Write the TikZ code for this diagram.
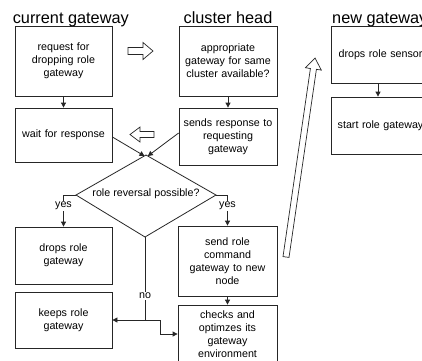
\documentclass[tikz,border=0pt]{standalone}
\usepackage{fontspec}
\setmainfont{Liberation Sans}
\usetikzlibrary{arrows.meta}
\begin{document}
\begin{tikzpicture}[x=1pt,y=-1pt,
  box/.style={draw=black!85, line width=0.8pt, fill=white, align=center,
    text width=92pt, inner sep=0pt, font=\fontsize{10.7}{12.9}\selectfont},
  title/.style={font=\fontsize{16.3}{19}\selectfont, anchor=base, inner sep=0pt},
  conn/.style={draw=black!85, line width=0.8pt, -{Triangle[length=5pt,width=5pt]}},
  plain/.style={draw=black!85, line width=0.8pt},
  lbl/.style={fill=white, inner sep=1pt, font=\fontsize{10.7}{12.9}\selectfont},
  hollow/.style={draw=black!85, line width=0.7pt, fill=white, line join=miter}]
\useasboundingbox (0,0) rectangle (422,360);

% titles
\node[title] (t1) at (70.8,23) {current gateway};
\node[title] (t2) at (228,23) {cluster head};
\node[title, anchor=base west] (t3) at (332,23) {new gateway};

% boxes
\node[box, minimum width=97, minimum height=70] (cg1) at (63.5,61) {request for\\dropping role\\gateway};
\node[box, minimum width=97, minimum height=54] (cg2) at (63.5,135) {wait for response};
\node[box, minimum width=98, minimum height=70] (ch1) at (228,61) {appropriate\\gateway for same\\cluster available?};
\node[box, minimum width=98, minimum height=57] (ch2) at (228,136.5) {sends response to\\requesting\\gateway};
\node[box, minimum width=99, minimum height=57] (ng1) at (380.5,54.5) {drops role sensor};
\node[box, minimum width=99, minimum height=57] (ng2) at (380.5,125.5) {start role gateway};
\node[box, minimum width=97, minimum height=57] (drops) at (63.5,255.5) {drops role\\gateway};
\node[box, minimum width=97, minimum height=56] (keeps) at (63.5,320) {keeps role\\gateway};
\node[box, minimum width=99, minimum height=70] (send) at (227.5,261) {send role\\command\\gateway to new\\node};
\node[box, minimum width=99, minimum height=58] (checks) at (227.5,334) {checks and\\optimzes its\\gateway\\environment};

% decision diamond
\coordinate (dt) at (146,155);
\coordinate (dl) at (76,195);
\coordinate (dr) at (216,195);
\coordinate (db) at (145,237);
\draw[plain, fill=white] (dt) -- (dr) -- (db) -- (dl) -- cycle;
\node[font=\fontsize{10.7}{12.9}\selectfont, inner sep=0pt] (dtext) at (146,194) {role reversal possible?};

% vertical connectors
\draw[conn] (cg1) -- (cg2);
\draw[conn] (ch1.south) -- (ch2.north);
\draw[conn] (ng1.south -| 378,0) -- (ng2.north -| 378,0);
\draw[conn] (send) -- (checks);

% into decision
\coordinate (in1) at (144.5,156);
\coordinate (in2) at (147.8,156);
\draw[conn] ([yshift=-2pt]cg2.east) -- (in1);
\draw[conn] ([yshift=3.5pt]ch2.west) -- (in2);

% yes branches
\draw[conn] (dl) -| (drops.north);
\draw[conn] (dr) -| (send.north);
\node[lbl] (y1) at (63.5,206) {yes};
\node[lbl] (y2) at (227.5,206) {yes};

% no branch
\coordinate (nj) at (145,320);
\draw[conn] (db) |- (keeps.east);
\draw[conn] (nj) -- ++(15,0) |- (checks.west);
\node[lbl] (no) at (145,296) {no};

% hollow arrows
\draw[hollow] (128,47.5) -- (143,47.5) -- (143,42.5) -- (153,51) -- (143,59.5) -- (143,54.5) -- (128,54.5) -- cycle;
\draw[hollow] (154,131.5) -- (140,131.5) -- (140,127) -- (130,134.5) -- (140,142) -- (140,137.5) -- (154,137.5) -- cycle;
\draw[hollow] (283.0,256.6) -- (310.4,68.5) -- (305.5,67.7) -- (315,58) -- (321.3,70.1) -- (316.4,69.3) -- (289.0,257.4) -- cycle;
\end{tikzpicture}
\end{document}
